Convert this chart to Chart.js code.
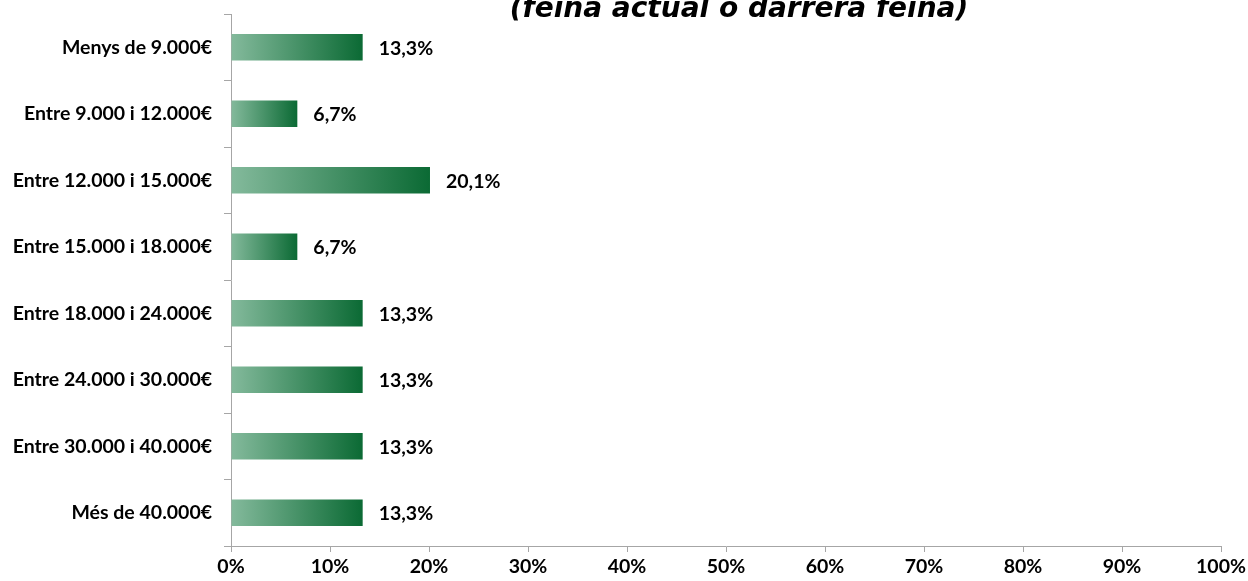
<!DOCTYPE html>
<html>
<head>
<meta charset="utf-8">
<script src="https://cdn.jsdelivr.net/npm/chart.js@4"></script>
<style>
  html, body { margin: 0; padding: 0; background: #fff; }
  #wrap { width: 1248px; height: 581px; overflow: hidden; }
</style>
</head>
<body>
<div id="wrap"><canvas id="chart" width="1248" height="581"></canvas></div>
<script>
const titleText = "(feina actual o darrera feina)";
const categories = [
  "Menys de 9.000€",
  "Entre 9.000 i 12.000€",
  "Entre 12.000 i 15.000€",
  "Entre 15.000 i 18.000€",
  "Entre 18.000 i 24.000€",
  "Entre 24.000 i 30.000€",
  "Entre 30.000 i 40.000€",
  "Més de 40.000€",
];
const values = [13.3, 6.7, 20.1, 6.7, 13.3, 13.3, 13.3, 13.3];

const labelFont = "bold 19.5px Lato";
const axisGray = "#a6a6a6";

function fmt(v) {
  return v.toFixed(1).replace(".", ",") + "%";
}

// gradient per bar, light on the left to dark at the end of the bar
function barGradient(context) {
  const chart = context.chart;
  if (!chart.chartArea) return "#3f8f63";
  const xScale = chart.scales.x;
  const x0 = xScale.getPixelForValue(0);
  const x1 = xScale.getPixelForValue(context.raw);
  const g = chart.ctx.createLinearGradient(x0, 0, x1, 0);
  g.addColorStop(0, "#84ba9c");
  g.addColorStop(1, "#0b6a34");
  return g;
}

const valueLabels = {
  id: "valueLabels",
  afterDatasetsDraw(chart) {
    const ctx = chart.ctx;
    const meta = chart.getDatasetMeta(0);
    ctx.save();
    ctx.font = labelFont;
    ctx.fillStyle = "#000";
    ctx.textAlign = "left";
    ctx.textBaseline = "middle";
    meta.data.forEach((bar, i) => {
      ctx.fillText(fmt(values[i]), bar.x + 16, bar.y + 1);
    });
    ctx.restore();
  },
};

const cutTitle = {
  id: "cutTitle",
  afterDraw(chart) {
    const ctx = chart.ctx;
    ctx.save();
    ctx.font = "italic bold 28px 'DejaVu Sans'";
    ctx.fillStyle = "#000";
    ctx.textAlign = "center";
    ctx.textBaseline = "alphabetic";
    ctx.fillText(titleText, 739, 17);
    ctx.restore();
  },
};

const ctx = document.getElementById("chart").getContext("2d");

new Chart(ctx, {
  type: "bar",
  data: {
    labels: categories,
    datasets: [
      {
        data: values,
        backgroundColor: barGradient,
        borderWidth: 0,
        barPercentage: 0.8,
        categoryPercentage: 0.5,
      },
    ],
  },
  options: {
    indexAxis: "y",
    responsive: false,
    animation: false,
    layout: { padding: { top: 14, right: 27, left: 0, bottom: 0 } },
    plugins: {
      legend: { display: false },
      tooltip: { enabled: false },
      title: { display: false },
    },
    scales: {
      x: {
        min: 0,
        max: 100,
        afterFit(scale) {
          scale.height = 35;
          scale.paddingLeft = 0;
          scale.paddingRight = 0;
        },
        ticks: {
          stepSize: 10,
          padding: 3,
          color: "#000",
          font: { family: "Lato", weight: "bold", size: 19.5 },
          callback: (v) => v + "%",
        },
        grid: {
          drawOnChartArea: false,
          drawTicks: true,
          tickLength: 6,
          color: axisGray,
        },
        border: { color: axisGray, width: 1 },
      },
      y: {
        afterFit(scale) {
          scale.width = 231;
          scale.paddingTop = 0;
          scale.paddingBottom = 0;
        },
        ticks: {
          padding: 12,
          color: "#000",
          font: { family: "Lato", weight: "bold", size: 19.5 },
        },
        grid: {
          drawOnChartArea: false,
          drawTicks: true,
          tickLength: 7,
          color: axisGray,
        },
        border: { color: axisGray, width: 1 },
      },
    },
  },
  plugins: [valueLabels, cutTitle],
});
</script>
</body>
</html>
